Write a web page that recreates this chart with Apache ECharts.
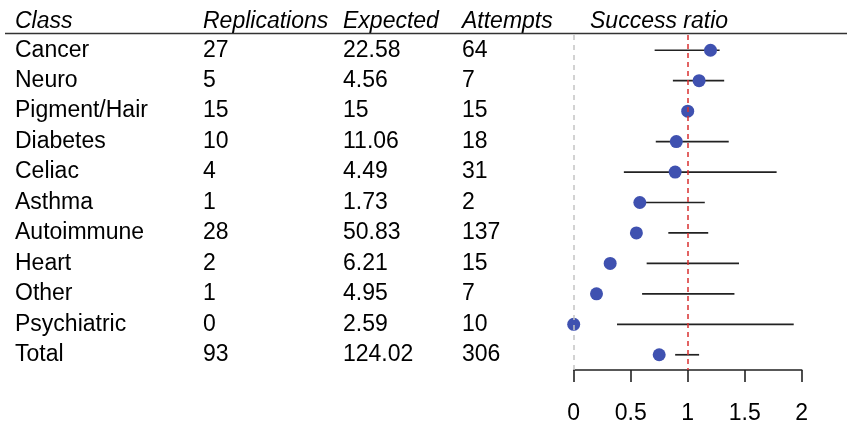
<!DOCTYPE html>
<html>
<head>
<meta charset="utf-8">
<script src="https://cdn.jsdelivr.net/npm/echarts@6/dist/echarts.min.js"></script>
<style>
html,body{margin:0;padding:0;background:#fff;}
#chart{width:847px;height:425px;}
</style>
</head>
<body>
<div id="chart"></div>
<script>
const classes = ['Cancer','Neuro','Pigment/Hair','Diabetes','Celiac','Asthma','Autoimmune','Heart','Other','Psychiatric','Total'];
const replications = ['27','5','15','10','4','1','28','2','1','0','93'];
const expected = ['22.58','4.56','15','11.06','4.49','1.73','50.83','6.21','4.95','2.59','124.02'];
const attempts = ['64','7','15','18','31','2','137','15','7','10','306'];
const ratio = [1.20,1.10,1.00,0.90,0.89,0.58,0.55,0.32,0.20,0.00,0.75];
const ciLow = [0.71,0.87,0.99,0.72,0.44,0.58,0.83,0.64,0.60,0.38,0.89];
const ciHigh = [1.28,1.32,1.01,1.36,1.78,1.15,1.18,1.45,1.41,1.93,1.10];
const headers = ['Class','Replications','Expected','Attempts','Success ratio'];

const FONT = "'Liberation Sans', Arial, Helvetica, sans-serif";
const FS = 23;
const gridLeft = 573.7, gridRight = 45.3, gridTop = 35, gridBottom = 54.5;
const colX = [15, 203, 343, 462, 590];

const chart = echarts.init(document.getElementById('chart'));

function colAxis(values, x) {
  return {
    type: 'category', data: classes, inverse: true, position: 'left',
    offset: gridLeft - x, gridIndex: 0,
    axisLine: {show: false}, axisTick: {show: false}, splitLine: {show: false},
    axisLabel: {
      show: true, interval: 0, align: 'left', margin: 0,
      padding: [5, 0, 0, 0],
      fontSize: FS, fontFamily: FONT, color: '#000',
      formatter: (v, i) => values[i]
    }
  };
}

const option = {
  animation: false,
  backgroundColor: '#fff',
  grid: {left: gridLeft, right: gridRight, top: gridTop, bottom: gridBottom},
  xAxis: {
    type: 'value', min: 0, max: 2, interval: 0.5,
    axisLine: {show: true, lineStyle: {color: '#222', width: 1.6}},
    axisTick: {show: true, length: 12, lineStyle: {color: '#222', width: 1.6}},
    axisLabel: {fontSize: FS, fontFamily: FONT, color: '#000', margin: 32,
      formatter: v => String(v)},
    splitLine: {show: false}
  },
  yAxis: [
    {type: 'category', data: classes, inverse: true, show: false},
    colAxis(classes, colX[0]),
    colAxis(replications, colX[1]),
    colAxis(expected, colX[2]),
    colAxis(attempts, colX[3])
  ],
  graphic: [
    {type: 'line', shape: {x1: 5, y1: 33.5, x2: 847, y2: 33.5},
     style: {stroke: '#333', lineWidth: 1.6}, z: 10}
  ].concat(headers.map((h, i) => ({
    type: 'text', x: colX[i], y: 22,
    style: {text: h, fontSize: FS, fontStyle: 'italic', fontFamily: FONT,
      fill: '#000', align: 'left', verticalAlign: 'middle'}
  }))),
  series: [
    {
      type: 'custom',
      yAxisIndex: 0,
      data: classes.map((c, i) => [ciLow[i], ciHigh[i], i]),
      encode: {x: [0, 1], y: 2},
      renderItem: (params, api) => {
        const p1 = api.coord([api.value(0), api.value(2)]);
        const p2 = api.coord([api.value(1), api.value(2)]);
        return {type: 'line', shape: {x1: p1[0], y1: p1[1], x2: p2[0], y2: p2[1]},
          style: {stroke: '#222', lineWidth: 1.7}};
      },
      z: 2
    },
    {
      type: 'scatter',
      yAxisIndex: 0,
      data: classes.map((c, i) => [ratio[i], c]),
      symbolSize: 13,
      itemStyle: {color: '#3f51b0', opacity: 1},
      z: 3,
      markLine: {
        silent: true, symbol: 'none', label: {show: false},
        data: [
          {xAxis: 0, lineStyle: {color: '#c4c4c4', type: [5, 5], width: 1.5}},
          {xAxis: 1, lineStyle: {color: '#d93030', type: [5, 4], width: 1.5}}
        ]
      }
    }
  ]
};
chart.setOption(option);
</script>
</body>
</html>
